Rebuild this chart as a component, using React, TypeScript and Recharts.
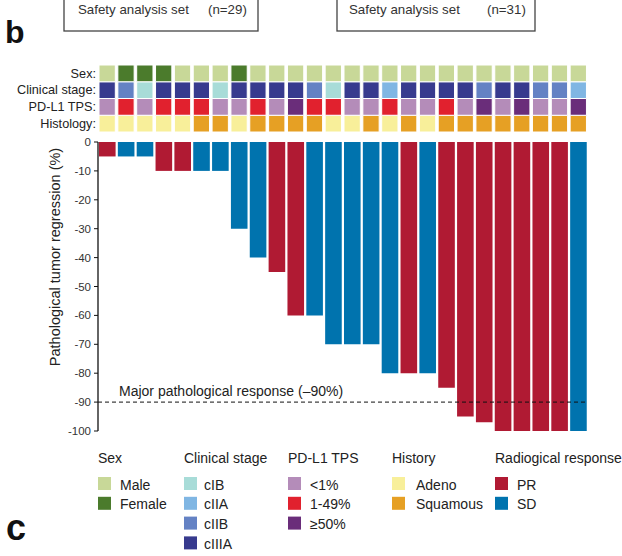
import React from 'react';
import { BarChart, Bar, XAxis, YAxis, Cell, ReferenceLine } from 'recharts';

const FONT = '"Liberation Sans", Arial, Helvetica, sans-serif';

// ---------- data ----------
const patients = [
  'P01', 'P02', 'P03', 'P04', 'P05', 'P06', 'P07', 'P08', 'P09', 'P10', 'P11', 'P12', 'P13',
  'P14', 'P15', 'P16', 'P17', 'P18', 'P19', 'P20', 'P21', 'P22', 'P23', 'P24', 'P25', 'P26',
];
const regression = [
  -5, -5, -5, -10, -10, -10, -10, -30, -40, -45, -60, -60, -70,
  -70, -70, -80, -80, -80, -85, -95, -97, -100, -100, -100, -100, -100,
];
const response = [
  'PR', 'SD', 'SD', 'PR', 'PR', 'SD', 'SD', 'SD', 'SD', 'PR', 'PR', 'SD', 'SD',
  'SD', 'SD', 'SD', 'PR', 'SD', 'PR', 'PR', 'PR', 'PR', 'PR', 'PR', 'PR', 'SD',
];
const sex = [
  'Male', 'Female', 'Female', 'Female', 'Male', 'Male', 'Male', 'Female', 'Male', 'Male', 'Male', 'Male', 'Male',
  'Male', 'Male', 'Male', 'Male', 'Male', 'Male', 'Male', 'Male', 'Male', 'Male', 'Male', 'Male', 'Male',
];
const stage = [
  'cIIIA', 'cIIB', 'cIB', 'cIIIA', 'cIIIA', 'cIIIA', 'cIB', 'cIIIA', 'cIIIA', 'cIIIA', 'cIIIA', 'cIIB', 'cIB',
  'cIIIA', 'cIIIA', 'cIIA', 'cIIIA', 'cIIIA', 'cIIIA', 'cIIIA', 'cIIB', 'cIIIA', 'cIIIA', 'cIIB', 'cIIB', 'cIIA',
];
const pdl1 = [
  '<1%', '1-49%', '<1%', '1-49%', '1-49%', '1-49%', '<1%', '<1%', '1-49%', '<1%', '≥50%', '1-49%', '1-49%',
  '<1%', '<1%', '1-49%', '<1%', '<1%', '1-49%', '<1%', '≥50%', '<1%', '≥50%', '<1%', '<1%', '≥50%',
];
const histology = [
  'Adeno', 'Adeno', 'Adeno', 'Adeno', 'Adeno', 'Squamous', 'Squamous', 'Adeno', 'Squamous', 'Squamous', 'Squamous', 'Squamous', 'Adeno',
  'Adeno', 'Squamous', 'Adeno', 'Squamous', 'Adeno', 'Squamous', 'Squamous', 'Squamous', 'Squamous', 'Squamous', 'Squamous', 'Squamous', 'Squamous',
];
const yTicks = [0, -10, -20, -30, -40, -50, -60, -70, -80, -90, -100];
const heatLabels = ['Sex:', 'Clinical stage:', 'PD-L1 TPS:', 'Histology:'];
const sexLevels = ['Male', 'Female'];
const stageLevels = ['cIB', 'cIIA', 'cIIB', 'cIIIA'];
const pdl1Levels = ['<1%', '1-49%', '≥50%'];
const histLevels = ['Adeno', 'Squamous'];
const responseLevels = ['PR', 'SD'];
const legendTitles = ['Sex', 'Clinical stage', 'PD-L1 TPS', 'History', 'Radiogical response'];
const setLabels = ['Safety analysis set', 'Safety analysis set'];
const setCounts = ['(n=29)', '(n=31)'];

// ---------- colours ----------
const COLORS: Record<string, string> = {
  Male: '#c8d898',
  Female: '#4b7b2c',
  cIB: '#a8dcd8',
  cIIA: '#80b6e3',
  cIIB: '#6482c4',
  cIIIA: '#373a8e',
  '<1%': '#b48cb9',
  '1-49%': '#e1212e',
  '≥50%': '#6a2d7a',
  Adeno: '#f8ef9a',
  Squamous: '#e6a024',
  PR: '#b01a33',
  SD: '#0073ae',
};

const mainData = patients.map((id, i) => ({ id, value: regression[i], response: response[i] }));
const heatData = patients.map((id, i) => ({
  id,
  hist: 1,
  pd: 1,
  stage: 1,
  sex: 1,
  histV: histology[i],
  pdV: pdl1[i],
  stageV: stage[i],
  sexV: sex[i],
}));

const W = 622;
const H = 556;
const LEFT = 98;
const RIGHT = 34;
const YAXIS_W = 40;

const mprLabel = (p: any) => {
  const vb = p.viewBox || {};
  return (
    <text x={vb.x + 21} y={vb.y - 6} fontSize={14} fill="#222" fontFamily={FONT}>
      Major pathological response (–90%)
    </text>
  );
};

const legendGroups = [
  { title: legendTitles[0], x: 98, tx: 120, items: sexLevels },
  { title: legendTitles[1], x: 184, tx: 204, items: stageLevels },
  { title: legendTitles[2], x: 288, tx: 310, items: pdl1Levels },
  { title: legendTitles[3], x: 392, tx: 416, items: histLevels },
  { title: legendTitles[4], x: 495, tx: 517, items: responseLevels },
];

export default function App() {
  return (
    <div style={{ position: 'absolute', left: 0, top: 0, width: W, height: H, background: '#fff', fontFamily: FONT }}>
      {/* Heat map rows */}
      <div style={{ position: 'absolute', left: 0, top: 0 }}>
        <BarChart
          width={W}
          height={H}
          data={heatData}
          margin={{ top: 65, right: RIGHT, bottom: H - 132, left: LEFT }}
          barSize={16.3}
        >
          <XAxis dataKey="id" hide />
          <YAxis hide type="number" domain={[0, 4]} />
          <Bar dataKey="hist" stackId="h" isAnimationActive={false} stroke="#fff" strokeWidth={1}>
            {heatData.map((d) => (
              <Cell key={d.id} fill={COLORS[d.histV]} />
            ))}
          </Bar>
          <Bar dataKey="pd" stackId="h" isAnimationActive={false} stroke="#fff" strokeWidth={1}>
            {heatData.map((d) => (
              <Cell key={d.id} fill={COLORS[d.pdV]} />
            ))}
          </Bar>
          <Bar dataKey="stage" stackId="h" isAnimationActive={false} stroke="#fff" strokeWidth={1}>
            {heatData.map((d) => (
              <Cell key={d.id} fill={COLORS[d.stageV]} />
            ))}
          </Bar>
          <Bar dataKey="sex" stackId="h" isAnimationActive={false} stroke="#fff" strokeWidth={1}>
            {heatData.map((d) => (
              <Cell key={d.id} fill={COLORS[d.sexV]} />
            ))}
          </Bar>
        </BarChart>
      </div>

      {/* Waterfall */}
      <div style={{ position: 'absolute', left: 0, top: 0 }}>
        <BarChart
          width={W}
          height={H}
          data={mainData}
          margin={{ top: 142, right: RIGHT, bottom: H - 431, left: LEFT - YAXIS_W }}
          barSize={16.6}
        >
          <XAxis dataKey="id" hide />
          <YAxis
            type="number"
            domain={[-100, 0]}
            ticks={yTicks}
            interval={0}
            width={YAXIS_W}
            tickSize={4}
            tickMargin={3}
            axisLine={{ stroke: '#111', strokeWidth: 1.3 }}
            tickLine={{ stroke: '#111', strokeWidth: 1 }}
            tick={{ fontSize: 11.5, fill: '#333', fontFamily: FONT }}
          />
          <Bar dataKey="value" isAnimationActive={false}>
            {mainData.map((d) => (
              <Cell key={d.id} fill={COLORS[d.response]} />
            ))}
          </Bar>
          <ReferenceLine y={-90} stroke="#111" strokeWidth={1} strokeDasharray="4 3" label={mprLabel} />
        </BarChart>
      </div>

      {/* Annotation overlay */}
      <svg width={W} height={H} style={{ position: 'absolute', left: 0, top: 0, pointerEvents: 'none' }} fontFamily={FONT}>
        {/* header boxes */}
        <rect x={64} y={-10} width={194} height={41} fill="none" stroke="#444" strokeWidth={1.3} />
        <rect x={337} y={-10} width={198} height={41} fill="none" stroke="#444" strokeWidth={1.3} />
        <text x={78} y={9} fontSize={13.3} fill="#333" dominantBaseline="central">{setLabels[0]}</text>
        <text x={208} y={9} fontSize={13.3} fill="#333" dominantBaseline="central">{setCounts[0]}</text>
        <text x={349} y={9} fontSize={13.3} fill="#333" dominantBaseline="central">{setLabels[1]}</text>
        <text x={487} y={9} fontSize={13.3} fill="#333" dominantBaseline="central">{setCounts[1]}</text>

        {/* panel letters */}
        <text x={5} y={43} fontSize={32} fontWeight="bold" fill="#111">b</text>
        <text x={6} y={540} fontSize={36} fontWeight="bold" fill="#111">c</text>

        {/* heat map labels */}
        {heatLabels.map((l, i) => (
          <text key={l} x={96} y={73.5 + i * 16.75} fontSize={12.7} fill="#222" textAnchor="end" dominantBaseline="central">
            {l}
          </text>
        ))}

        {/* y axis title */}
        <text
          x={55}
          y={257}
          fontSize={14.5}
          fill="#222"
          textAnchor="middle"
          dominantBaseline="central"
          transform="rotate(-90 55 257)"
        >
          Pathological tumor regression (%)
        </text>

        {/* legend */}
        {legendGroups.map((g) => (
          <g key={g.title}>
            <text x={g.x} y={458} fontSize={14} fill="#222" dominantBaseline="central">{g.title}</text>
            {g.items.map((it, j) => (
              <g key={it}>
                <rect x={g.x} y={477 + j * 19.8} width={13} height={13} fill={COLORS[it]} />
                <text x={g.tx} y={484.5 + j * 19.8} fontSize={14} fill="#222" dominantBaseline="central">{it}</text>
              </g>
            ))}
          </g>
        ))}
      </svg>
    </div>
  );
}
